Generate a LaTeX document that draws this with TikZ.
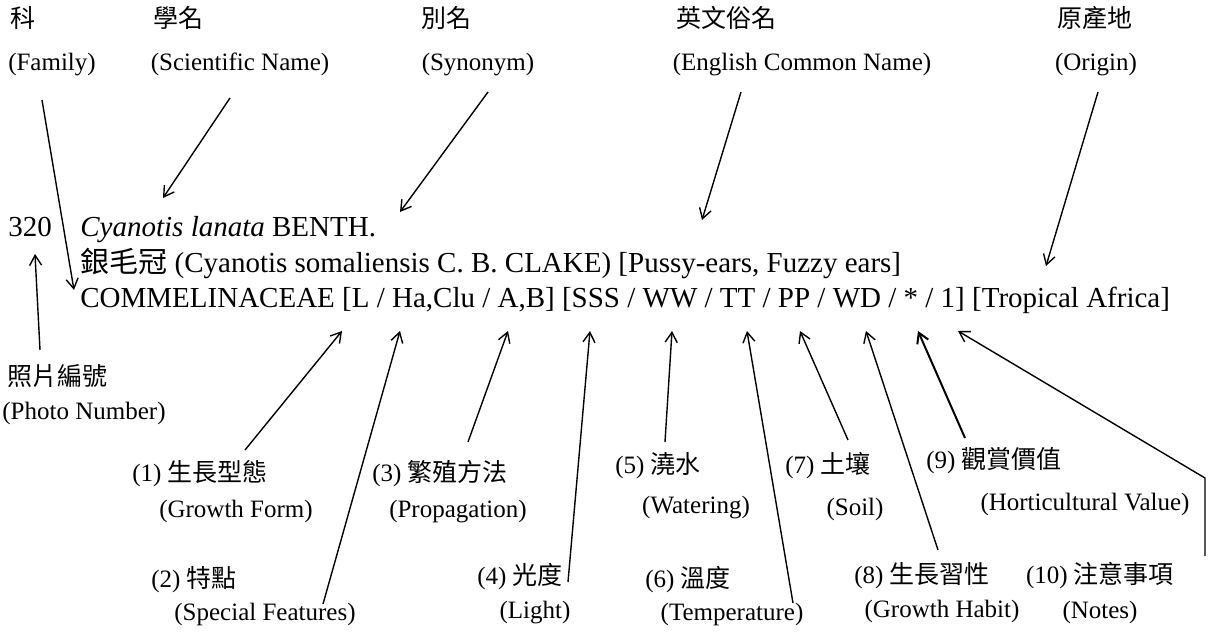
\documentclass[tikz,border=0pt]{standalone}
\usepackage{fontspec}
\setmainfont{Liberation Serif}
\newfontfamily\cjk{Noto Sans CJK TC}
\usepackage{tikz}
\usetikzlibrary{arrows.meta}

\begin{document}
\begin{tikzpicture}[x=0.5pt,y=-0.5pt,
  lab/.style={inner sep=0pt,font=\fontsize{12.5}{15}\selectfont,text height=0.75em,text depth=0.2em},
  txt/.style={inner sep=0pt,anchor=west,font=\fontsize{14.5}{17}\selectfont,text height=0.75em,text depth=0.2em},
  arr/.style={line width=0.7pt,-{Straight Barb[length=5pt,width=6pt]}}]
\useasboundingbox (0,0) rectangle (1222,637);
\node[lab] (ke) at (23,22) {\cjk 科};
\node[lab] (keE) at (52,65) {(Family)};
\node[lab] (xm) at (178,22) {\cjk 學名};
\node[lab] (xmE) at (240,65) {(Scientific Name)};
\node[lab] (bm) at (446,22) {\cjk 別名};
\node[lab] (bmE) at (478,65) {(Synonym)};
\node[lab] (yw) at (726,22) {\cjk 英文俗名};
\node[lab] (ywE) at (802,65) {(English Common Name)};
\node[lab] (yc) at (1095,22) {\cjk 原產地};
\node[lab] (ycE) at (1096,65) {(Origin)};
\node[txt] (no) at (8,231) {320};
\node[txt] (l1) at (80,231) {\textit{Cyanotis lanata} BENTH.};
\node[txt] (l2) at (80,267) {{\cjk 銀毛冠} (Cyanotis somaliensis C. B. CLAKE) [Pussy-ears, Fuzzy ears]};
\node[txt] (l3) at (80,302) {COMMELINACEAE [L / Ha,Clu / A,B] [SSS / WW / TT / PP / WD / * / 1] [Tropical Africa]};
\node[lab] (zp) at (58,380) {\cjk 照片編號};
\node[lab] (zpE) at (84,414) {(Photo Number)};
\node[lab] (f1) at (200,476) {(1) {\cjk 生長型態}};
\node[lab] (f1E) at (236,512) {(Growth Form)};
\node[lab] (f2) at (194,582) {(2) {\cjk 特點}};
\node[lab] (f2E) at (265,615) {(Special Features)};
\node[lab] (f3) at (440,476) {(3) {\cjk 繁殖方法}};
\node[lab] (f3E) at (458,512) {(Propagation)};
\node[lab] (f4) at (520,579) {(4) {\cjk 光度}};
\node[lab] (f4E) at (535,613) {(Light)};
\node[lab] (f5) at (658,468) {(5) {\cjk 澆水}};
\node[lab] (f5E) at (696,508) {(Watering)};
\node[lab] (f6) at (688,582) {(6) {\cjk 溫度}};
\node[lab] (f6E) at (732,615) {(Temperature)};
\node[lab] (f7) at (828,468) {(7) {\cjk 土壤}};
\node[lab] (f7E) at (855,510) {(Soil)};
\node[lab] (f8) at (922,578) {(8) {\cjk 生長習性}};
\node[lab] (f8E) at (942,612) {(Growth Habit)};
\node[lab] (f9) at (994,463) {(9) {\cjk 觀賞價值}};
\node[lab] (f9E) at (1085,505) {(Horticultural Value)};
\node[lab] (f10) at (1100,578) {(10) {\cjk 注意事項}};
\node[lab] (f10E) at (1100,613) {(Notes)};
\coordinate (famA) at (42,100);  \coordinate (famB) at (74,290);
\coordinate (sciA) at (230,98);  \coordinate (sciB) at (163,198);
\coordinate (synA) at (488,92);  \coordinate (synB) at (400,212);
\coordinate (engA) at (741,92);  \coordinate (engB) at (702,220);
\coordinate (oriA) at (1098,92); \coordinate (oriB) at (1046,266);
\coordinate (picA) at (40,350);  \coordinate (picB) at (35,254);
\coordinate (a1) at (245,450);  \coordinate (b1) at (342,331);
\coordinate (a2) at (323,604);  \coordinate (b2) at (400,331);
\coordinate (a3) at (468,442);  \coordinate (b3) at (508,331);
\coordinate (a4) at (568,582);  \coordinate (b4) at (590,331);
\coordinate (a5) at (665,442);  \coordinate (b5) at (672,331);
\coordinate (a6) at (793,603);  \coordinate (b6) at (747,331);
\coordinate (a7) at (848,440);  \coordinate (b7) at (800,331);
\coordinate (a8) at (938,550);  \coordinate (b8) at (866,331);
\coordinate (a9) at (965,438);  \coordinate (b9) at (918,331);
\coordinate (a10) at (1205,556); \coordinate (k10) at (1205,478); \coordinate (b10) at (958,331);
\draw[arr] (famA) -- (famB);
\draw[arr] (sciA) -- (sciB);
\draw[arr] (synA) -- (synB);
\draw[arr] (engA) -- (engB);
\draw[arr] (oriA) -- (oriB);
\draw[arr] (picA) -- (picB);
\draw[arr] (a1) -- (b1);
\draw[arr] (a2) -- (b2);
\draw[arr] (a3) -- (b3);
\draw[arr] (a4) -- (b4);
\draw[arr] (a5) -- (b5);
\draw[arr] (a6) -- (b6);
\draw[arr] (a7) -- (b7);
\draw[arr] (a8) -- (b8);
\draw[arr,line width=1pt] (a9) -- (b9);
\draw[arr] (a10) -- (k10) -- (b10);
\end{tikzpicture}
\end{document}
